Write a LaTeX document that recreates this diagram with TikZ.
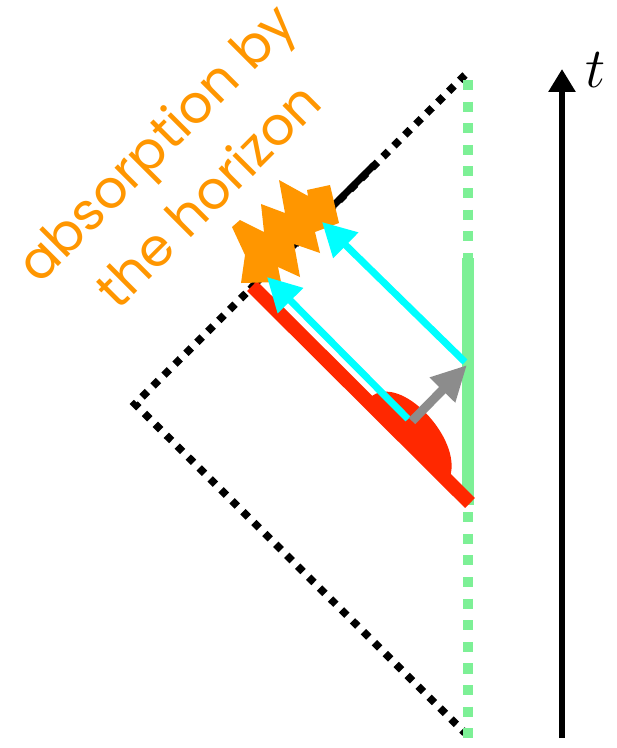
\documentclass[tikz,border=0pt]{standalone}
\usepackage{fontspec}
\usepackage{tikz}
\usetikzlibrary{arrows.meta}
\newfontfamily\labelfont{Poppins}
\definecolor{horange}{RGB}{255,150,0}
\definecolor{hcyan}{RGB}{0,255,255}
\definecolor{hred}{RGB}{255,40,0}
\definecolor{hgreen}{RGB}{125,240,150}
\definecolor{hgray}{RGB}{140,140,140}

\begin{document}
\begin{tikzpicture}[x=0.02cm, y=-0.02cm,
  dotline/.style={line width=4.3pt, dash pattern=on 4.3pt off 4.5pt},
  ray/.style={hcyan, line width=4pt, -{Triangle[length=19pt, width=19.5pt]}}]
  \useasboundingbox (0,0) rectangle (617,748);
  % Points
  \coordinate (T) at (465,75);    % top corner
  \coordinate (L) at (135,404);   % left corner
  \coordinate (B) at (465,733);   % bottom corner
  \coordinate (G0) at (468,80);
  \coordinate (G1) at (468,742);
  \coordinate (S0) at (468,258);  % green solid part
  \coordinate (S1) at (468,505);
  \coordinate (H0) at (374,165);  % horizon, solid part
  \coordinate (H1) at (250,289);
  \coordinate (R0) at (252,286);  % red shell
  \coordinate (R1) at (470,503);
  \coordinate (M) at (411,438);   % bump on the shell
  \coordinate (C1a) at (465,362);
  \coordinate (C1b) at (322,222);
  \coordinate (C2a) at (408,419);
  \coordinate (C2b) at (267,277);
  \coordinate (Ka) at (412,421);
  \coordinate (Kb) at (467,365);
  \coordinate (t0) at (562,738);
  \coordinate (t1) at (562,69);
  % Time axis
  \draw[line width=3.4pt, -{Triangle[length=13pt, width=14.7pt]}] (t0) -- (t1);
  \node[font=\Huge, scale=1.3] (tlab) at (596,70) {$t$};
  % Diamond edges (dotted)
  \draw[dotline] (T) -- (L) -- (B);
  \draw[line width=4pt] (H0) -- (H1);
  % Green line
  \draw[hgreen, line width=6.2pt, dash pattern=on 5.7pt off 6.6pt] (G0) -- (G1);
  \draw[hgreen, line width=6.8pt] (S0) -- (S1);
  % Red shell with bump
  \draw[hred, line width=8pt] (R0) -- (R1);
  \begin{scope}[shift={(M)}, rotate=-45]
    \fill[hred] (-1.15cm,-0.1cm) -- (-1.15cm,0) .. controls (-1.1cm,0.78cm) and (0.75cm,0.72cm) .. (1.1cm,0)
      -- (1.1cm,-0.1cm) -- cycle;
  \end{scope}
  % Absorption burst
  \fill[horange] (232,227) -- (240,220) -- (264,232) -- (261,204) -- (285,213)
    -- (279,180) -- (308,196) -- (307,190) -- (330,185) -- (339,223) -- (315,232)
    -- (320,253) -- (294,244) -- (300,277) -- (278,267) -- (281,282) -- (241,283)
    -- (245,255) -- cycle;
  % Rays
  \draw[ray] (C1a) -- (C1b);
  \draw[ray] (C2a) -- (C2b);
  \draw[hgray, line width=5.1pt, -{Triangle[length=20pt, width=19pt]}] (Ka) -- (Kb);
  % Label
  \node[horange, rotate=45, align=center, font=\labelfont\fontsize{30}{42}\selectfont]
    (abs) at (181,168) {absorption by\\the horizon};
\end{tikzpicture}
\end{document}
